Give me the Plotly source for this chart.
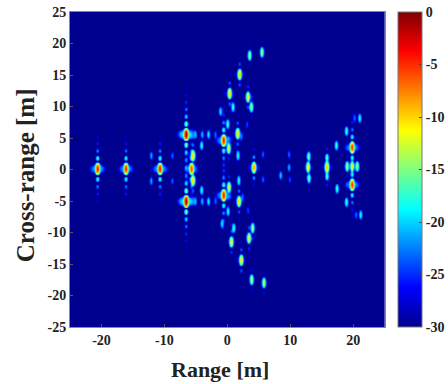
import numpy as np
import plotly.graph_objects as go

# Scatterers: range [m], cross-range [m], peak level [dB]
scat_range = [-20.6,-16.1,-10.7,-5.7,
              -6.55,-6.55,-5.47,-5.47,-4.1,-4.1,-3.0,-3.0,-4.0,-4.0,-5.1,-5.1,-1.9,-1.9,
              -0.6,-0.6,0.35,-1.1,-0.85,0.88,1.0,0.04,0.2,0.25,1.63,1.83,1.94,2.2,
              1.67,1.8,3.53,5.48,3.85,5.8,3.26,3.42,3.8,4.0,0.63,3.1,3.26,2.2,2.4,0.09,
              4.2,5.64,5.64,-12.1,-8.74,-12.1,-8.74,8.45,9.77,9.77,9.9,
              12.8,12.9,12.95,15.8,15.8,15.8,17.3,17.4,18.9,18.9,19.8,19.8,
              20.2,21.0,20.4,21.15,19.0,19.8,20.6]
scat_cross = [0.1,0.1,0.1,0.1,
              5.55,-5.08,2.2,-1.75,3.8,-3.3,5.55,-5.08,5.55,-5.08,5.55,-5.08,5.55,-5.08,
              4.6,-4.1,12.06,9.2,-8.6,9.9,-9.3,7.2,3.33,-2.8,5.7,-5.08,15.08,-14.4,
              2.2,-1.75,18.1,18.6,-17.5,-18.0,11.5,-10.9,9.9,-9.3,-11.5,7.1,-6.5,5.1,-4.3,-6.67,
              0.3,2.4,-1.6,2.2,2.2,-1.85,-1.85,-0.95,2.4,0.3,-1.65,
              0.37,2.06,-1.4,0.37,1.75,-0.95,3.8,-3.06,6.08,-5.2,3.5,-2.43,
              8.14,8.14,-7.2,-7.2,0.48,0.48,0.48]
scat_db = [-4,-4.5,-4,-5.5,
           -1.5,-1.5,-10,-10,-18,-18,-19,-19,-21,-21,-21,-21,-23,-23,
           -4,-4,-10,-19,-19,-17,-17,-17,-12,-12,-10,-10,-10,-10,
           -18,-18,-14,-14,-13,-13,-11,-11,-14,-14,-11,-24,-24,-23,-23,-18,
           -8,-23,-23,-21,-23,-21,-23,-20,-23,-21,-24,
           -11,-16,-16,-9,-17,-17,-17,-17,-17,-17,-5,-5,
           -23,-18,-23,-18,-14,-12,-14]

x_ticks = [-20,-10,0,10,20]
x_labels = ["-20","-10","0","10","20"]
y_ticks = [25,20,15,10,5,0,-5,-10,-15,-20,-25]
y_labels = ["25","20","15","10","5","0","-5","-10","-15","-20","-25"]
c_ticks = [0,-5,-10,-15,-20,-25,-30]
c_labels = ["0","-5","-10","-15","-20","-25","-30"]
jet = [[0,"rgb(0,0,143)"],[0.125,"rgb(0,0,255)"],[0.375,"rgb(0,255,255)"],
       [0.625,"rgb(255,255,0)"],[0.875,"rgb(255,0,0)"],[1,"rgb(128,0,0)"]]

xg = np.linspace(-25, 25, 316)
yg = np.linspace(-25, 25, 315)
X, Y = np.meshgrid(xg, yg)
P = np.zeros_like(X)
for r, c, d in zip(scat_range, scat_cross, scat_db):
    dx, dy = X-r, Y-c
    lobe_y = np.sinc(dy/1.15)**2
    P += 10**(d/10) * lobe_y * (np.exp(-(dx/0.21)**2) + 10**(-1.6) * np.exp(-(dx/0.95)**2))
Z = np.clip(10*np.log10(P + 1e-9), -30, 0)

font = "Liberation Serif"
W = 378.0
fig = go.Figure(go.Heatmap(
    x=xg, y=yg, z=np.round(Z, 2).tolist(), zmin=-30, zmax=0, colorscale=jet, zsmooth="fast",
    colorbar=dict(thickness=24, thicknessmode="pixels", len=1, lenmode="fraction",
                  x=328/W, xanchor="left", xpad=0, y=0.5, yanchor="middle", ypad=0,
                  tickmode="array", tickvals=c_ticks, ticktext=[f"<b>{t}</b>" for t in c_labels],
                  ticks="inside", ticklen=3, tickcolor="#444",
                  outlinewidth=1, outlinecolor="#777",
                  tickfont=dict(family=font, size=14, color="#222")),
))
axis = dict(range=[-25,25], tickmode="array", ticks="inside", ticklen=3, tickcolor="#555", automargin=False,
            showgrid=False, zeroline=False, showline=True, linecolor="#888", linewidth=1, mirror=True,
            tickfont=dict(family=font, size=14, color="#222"))
fig.update_xaxes(**axis, tickvals=x_ticks, ticktext=[f"<b>{t}</b>" for t in x_labels], domain=[0, 315.5/W])
fig.update_yaxes(**axis, tickvals=y_ticks, ticktext=[f"<b>{t}</b>" for t in y_labels])
fig.update_layout(width=448, height=384, autosize=False, paper_bgcolor="white", plot_bgcolor="white",
                  margin=dict(l=70, r=0, t=12, b=57),
                  annotations=[
                      dict(text="<b>Range [m]</b>", xref="paper", yref="paper", x=150/W, y=-0.135, xanchor="center", yanchor="middle",
                           showarrow=False, font=dict(family=font, size=22, color="#222")),
                      dict(text="<b>Cross-range [m]</b>", xref="paper", yref="paper", x=-45/W, y=0.482, textangle=-90, xanchor="center", yanchor="middle",
                           showarrow=False, font=dict(family=font, size=25, color="#222")),
                  ])
fig.write_html("out.html", config={"displayModeBar": False},
               post_script="document.body.style.margin='0';window.dispatchEvent(new Event('resize'));")
